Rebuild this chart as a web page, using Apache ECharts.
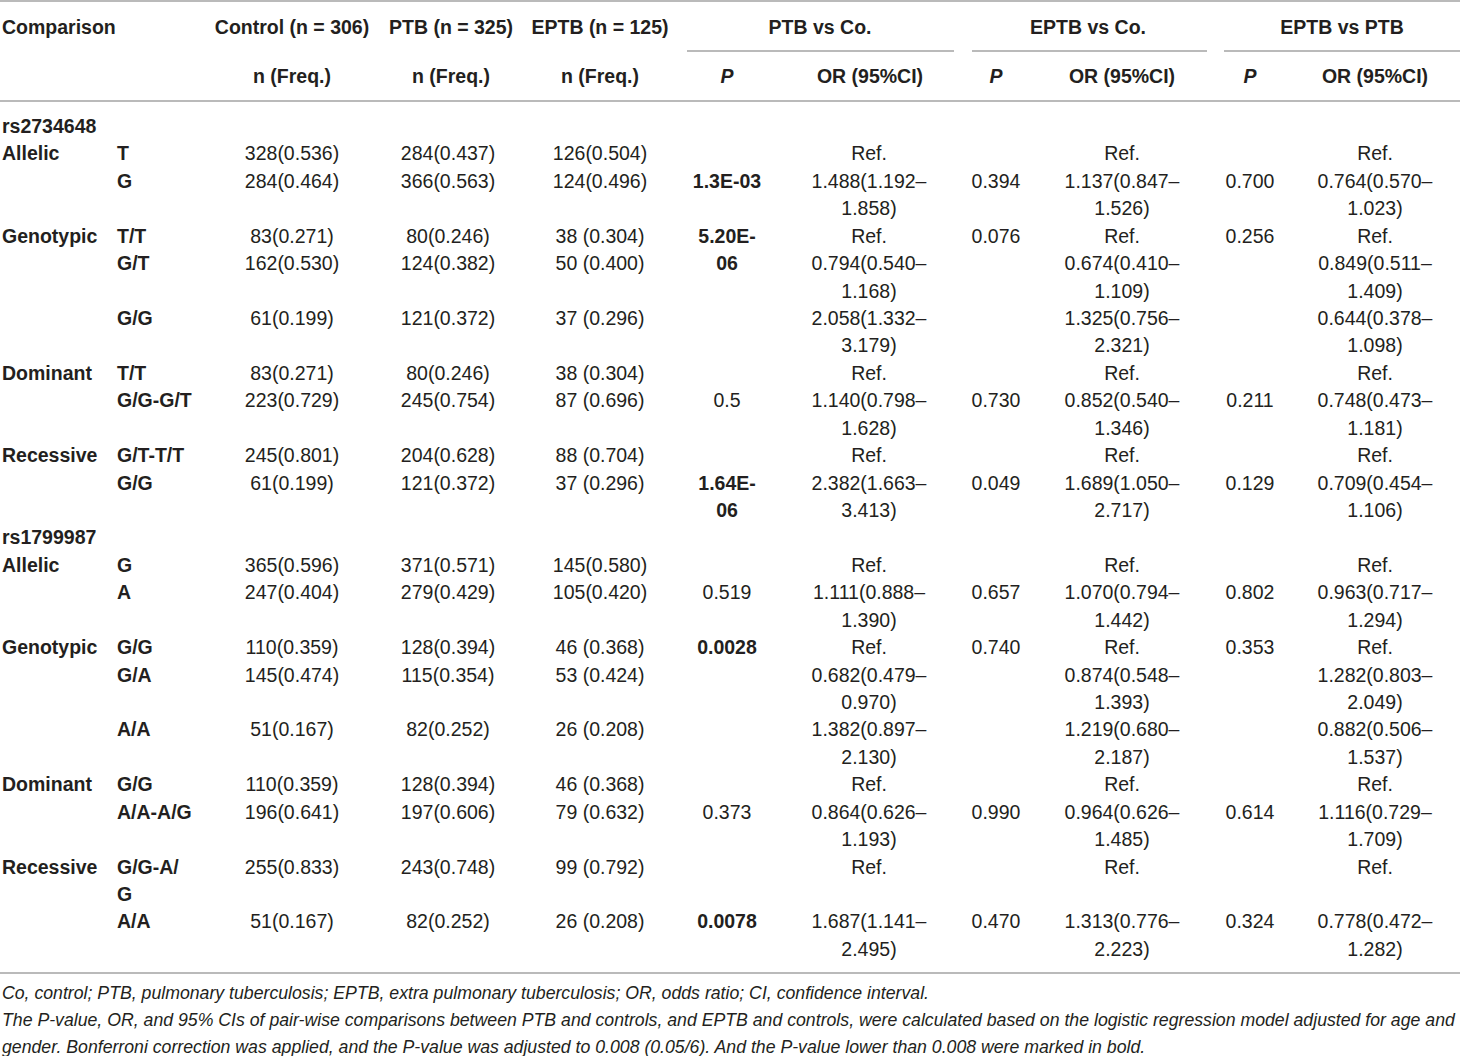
<!DOCTYPE html>
<html>
<head>
<meta charset="utf-8">
<script src="https://cdn.jsdelivr.net/npm/echarts@6/dist/echarts.min.js"></script>
<style>
  html, body { margin: 0; background: #fff; }
  #main { width: 1460px; height: 1056px; }
</style>
</head>
<body>
<div id="main"></div>
<script>
// one entry per printed line of the table body (31 lines), '\n' = cell wraps onto next line
var snpGroup = ['rs2734648',
  'Allelic', '', '',
  'Genotypic', '', '', '', '',
  'Dominant', '', '',
  'Recessive', '', '',
  'rs1799987',
  'Allelic', '', '',
  'Genotypic', '', '', '', '',
  'Dominant', '', '',
  'Recessive', '', '', ''];
var genotype = ['',
  'T', 'G', '',
  'T/T', 'G/T', '', 'G/G', '',
  'T/T', 'G/G-G/T', '',
  'G/T-T/T', 'G/G', '',
  '',
  'G', 'A', '',
  'G/G', 'G/A', '', 'A/A', '',
  'G/G', 'A/A-A/G', '',
  'G/G-A/\nG', '', 'A/A', ''];
var control = ['', '328(0.536)', '284(0.464)', '', '83(0.271)', '162(0.530)', '', '61(0.199)', '',
  '83(0.271)', '223(0.729)', '', '245(0.801)', '61(0.199)', '', '',
  '365(0.596)', '247(0.404)', '', '110(0.359)', '145(0.474)', '', '51(0.167)', '',
  '110(0.359)', '196(0.641)', '', '255(0.833)', '', '51(0.167)', ''];
var ptb = ['', '284(0.437)', '366(0.563)', '', '80(0.246)', '124(0.382)', '', '121(0.372)', '',
  '80(0.246)', '245(0.754)', '', '204(0.628)', '121(0.372)', '', '',
  '371(0.571)', '279(0.429)', '', '128(0.394)', '115(0.354)', '', '82(0.252)', '',
  '128(0.394)', '197(0.606)', '', '243(0.748)', '', '82(0.252)', ''];
var eptb = ['', '126(0.504)', '124(0.496)', '', '38 (0.304)', '50 (0.400)', '', '37 (0.296)', '',
  '38 (0.304)', '87 (0.696)', '', '88 (0.704)', '37 (0.296)', '', '',
  '145(0.580)', '105(0.420)', '', '46 (0.368)', '53 (0.424)', '', '26 (0.208)', '',
  '46 (0.368)', '79 (0.632)', '', '99 (0.792)', '', '26 (0.208)', ''];
var pPtbCo = ['', '', '1.3E-03', '', '5.20E-\n06', '', '', '', '',
  '', '0.5', '', '', '1.64E-\n06', '', '',
  '', '0.519', '', '0.0028', '', '', '', '',
  '', '0.373', '', '', '', '0.0078', ''];
var orPtbCo = ['', 'Ref.', '1.488(1.192–\n1.858)', '', 'Ref.', '0.794(0.540–\n1.168)', '', '2.058(1.332–\n3.179)', '',
  'Ref.', '1.140(0.798–\n1.628)', '', 'Ref.', '2.382(1.663–\n3.413)', '', '',
  'Ref.', '1.111(0.888–\n1.390)', '', 'Ref.', '0.682(0.479–\n0.970)', '', '1.382(0.897–\n2.130)', '',
  'Ref.', '0.864(0.626–\n1.193)', '', 'Ref.', '', '1.687(1.141–\n2.495)', ''];
var pEptbCo = ['', '', '0.394', '', '0.076', '', '', '', '',
  '', '0.730', '', '', '0.049', '', '',
  '', '0.657', '', '0.740', '', '', '', '',
  '', '0.990', '', '', '', '0.470', ''];
var orEptbCo = ['', 'Ref.', '1.137(0.847–\n1.526)', '', 'Ref.', '0.674(0.410–\n1.109)', '', '1.325(0.756–\n2.321)', '',
  'Ref.', '0.852(0.540–\n1.346)', '', 'Ref.', '1.689(1.050–\n2.717)', '', '',
  'Ref.', '1.070(0.794–\n1.442)', '', 'Ref.', '0.874(0.548–\n1.393)', '', '1.219(0.680–\n2.187)', '',
  'Ref.', '0.964(0.626–\n1.485)', '', 'Ref.', '', '1.313(0.776–\n2.223)', ''];
var pEptbPtb = ['', '', '0.700', '', '0.256', '', '', '', '',
  '', '0.211', '', '', '0.129', '', '',
  '', '0.802', '', '0.353', '', '', '', '',
  '', '0.614', '', '', '', '0.324', ''];
var orEptbPtb = ['', 'Ref.', '0.764(0.570–\n1.023)', '', 'Ref.', '0.849(0.511–\n1.409)', '', '0.644(0.378–\n1.098)', '',
  'Ref.', '0.748(0.473–\n1.181)', '', 'Ref.', '0.709(0.454–\n1.106)', '', '',
  'Ref.', '0.963(0.717–\n1.294)', '', 'Ref.', '1.282(0.803–\n2.049)', '', '0.882(0.506–\n1.537)', '',
  'Ref.', '1.116(0.729–\n1.709)', '', 'Ref.', '', '0.778(0.472–\n1.282)', ''];

var headTop = ['Comparison', 'Control (n = 306)', 'PTB (n = 325)', 'EPTB (n = 125)', 'PTB vs Co.', 'EPTB vs Co.', 'EPTB vs PTB'];
var headSub = ['n (Freq.)', 'n (Freq.)', 'n (Freq.)', 'P', 'OR (95%CI)', 'P', 'OR (95%CI)', 'P', 'OR (95%CI)'];
var notes = [
  'Co, control; PTB, pulmonary tuberculosis; EPTB, extra pulmonary tuberculosis; OR, odds ratio; CI, confidence interval.',
  'The P-value, OR, and 95% CIs of pair-wise comparisons between PTB and controls, and EPTB and controls, were calculated based on the logistic regression model adjusted for age and',
  'gender. Bonferroni correction was applied, and the P-value was adjusted to 0.008 (0.05/6). And the P-value lower than 0.008 were marked in bold.'
];
var alpha = 0.008;

// layout
var FONT = '"Liberation Sans", Arial, sans-serif';
var INK = '#231f20';
var RULE = '#a3a3a3';
var ROW_H = 27.43;
var columns = [snpGroup, genotype, control, ptb, eptb, pPtbCo, orPtbCo, pEptbCo, orEptbCo, pEptbPtb, orEptbPtb];
var colX = [2, 117, 292, 448, 600, 727, 869, 996, 1122, 1250, 1375];
var pCols = [5, 7, 9];

var cells = [];
var data = [];
columns.forEach(function (col, c) {
  col.forEach(function (txt, r) {
    if (!txt) return;
    var bold = c < 2;
    if (pCols.indexOf(c) >= 0 && parseFloat(txt.replace('\n', '')) < alpha) bold = true;
    cells.push({ text: txt, bold: bold, align: c < 2 ? 'left' : 'center' });
    data.push([colX[c], r]);
  });
});

var myChart = echarts.init(document.getElementById('main'), null, { renderer: 'svg' });

var graphics = [];
function addText(x, y, txt, font, align) {
  graphics.push({
    type: 'text', x: x, y: y, silent: true,
    style: { text: txt, font: font, fill: INK, align: align, verticalAlign: 'middle' }
  });
}
function addRule(x1, x2, y) {
  graphics.push({
    type: 'line', silent: true,
    shape: { x1: x1, y1: y, x2: x2, y2: y },
    style: { stroke: RULE, lineWidth: 1.5 }
  });
}
var B = 'bold 19.5px ' + FONT;
addText(2, 27, headTop[0], B, 'left');
[292, 451, 600, 820, 1088, 1342].forEach(function (x, i) {
  addText(x, 27, headTop[i + 1], B, 'center');
});
[292, 451, 600, 727, 870, 996, 1122, 1250, 1375].forEach(function (x, i) {
  addText(x, 76, headSub[i], (headSub[i] === 'P' ? 'italic ' : '') + B, 'center');
});
addRule(0, 1460, 1);
addRule(687, 954, 51);
addRule(972, 1207, 51);
addRule(1224, 1460, 51);
addRule(0, 1460, 101);
addRule(0, 1460, 973);
notes.forEach(function (n, i) {
  addText(2, 993 + i * 27, n, 'italic 17.7px ' + FONT, 'left');
});

var option = {
  animation: false,
  backgroundColor: '#fff',
  grid: {
    left: 0, right: 0,
    top: 126 - ROW_H,
    height: ROW_H * 32,
    outerBoundsMode: 'none'
  },
  xAxis: { type: 'value', min: 0, max: 1460, show: false },
  yAxis: { type: 'value', min: -1, max: 31, inverse: true, show: false },
  graphic: graphics,
  series: [{
    type: 'custom',
    coordinateSystem: 'cartesian2d',
    clip: false,
    silent: true,
    data: data,
    renderItem: function (params, api) {
      var cell = cells[params.dataIndex];
      var pt = api.coord([api.value(0), api.value(1)]);
      return {
        type: 'text',
        x: pt[0],
        y: pt[1] - ROW_H / 2,
        style: {
          text: cell.text,
          font: (cell.bold ? 'bold ' : '') + '19.5px ' + FONT,
          fill: INK,
          align: cell.align,
          verticalAlign: 'top',
          lineHeight: ROW_H
        }
      };
    }
  }]
};
myChart.setOption(option);
</script>
</body>
</html>
